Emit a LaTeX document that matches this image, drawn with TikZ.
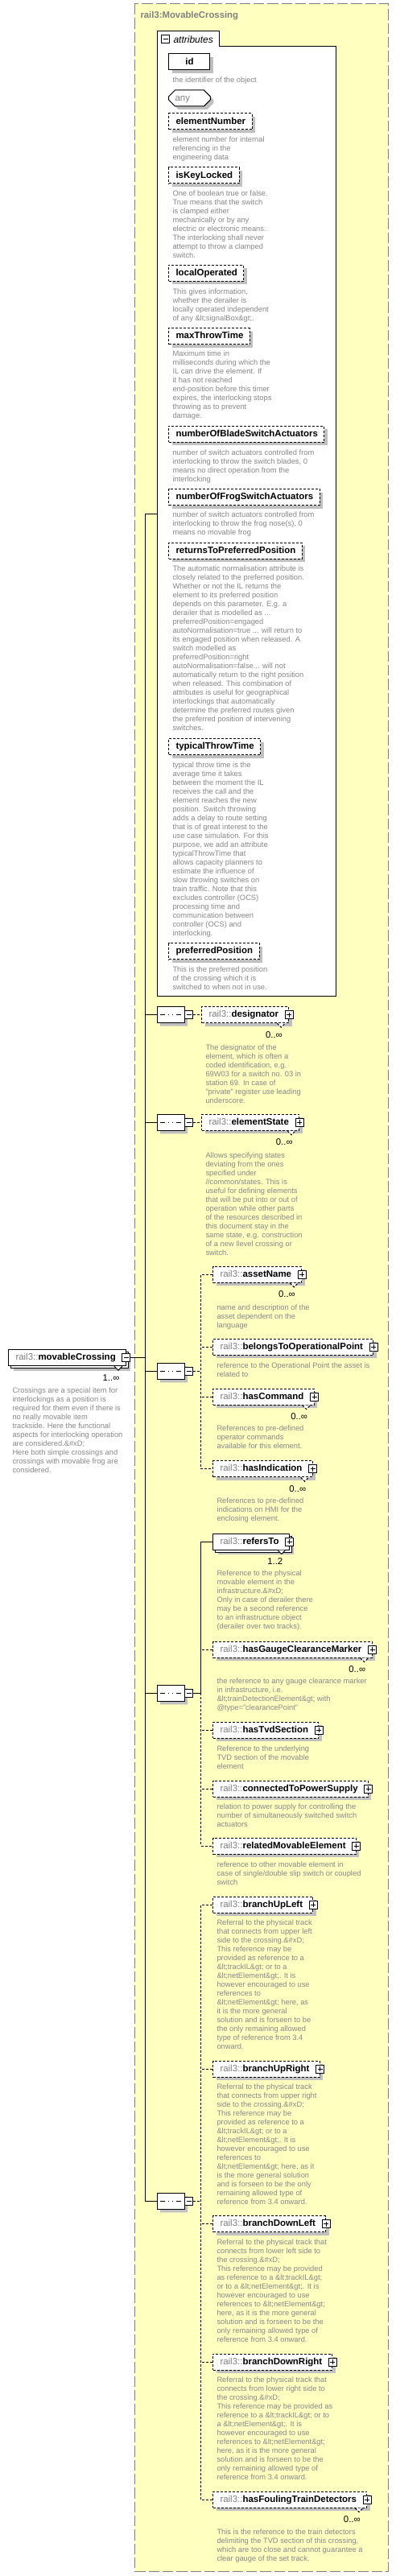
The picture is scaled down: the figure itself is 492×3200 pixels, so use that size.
\documentclass[tikz,border=0pt]{standalone}
\usepackage{fontspec}
\setmainfont{Liberation Sans}
\usetikzlibrary{shapes.misc}

\definecolor{panelyellow}{RGB}{255,255,192}
\definecolor{framegray}{RGB}{128,128,128}
\definecolor{descgray}{RGB}{136,136,136}
\definecolor{shadegray}{RGB}{192,192,192}

\newcommand\lblfont{\fontsize{8.6}{10}\selectfont}
\newcommand\descfont{\fontsize{7}{8.25}\selectfont}
\newcommand\elname[1]{\hspace*{6.75pt}{\mdseries\color{framegray}rail3::}#1\hspace*{9.5pt}}
\newcommand\atname[1]{\hspace*{6.75pt}#1\hspace*{6pt}}
\newcommand\dtext[1]{\strut#1}
\newcommand\multmark[3][optline]{%
  \draw[#1, fill=white] ([xshift=-11.25pt]#2.south east) -- ++(3.75pt,-3.75pt) -- ++(3.75pt,3.75pt);
  \node[mult] (#2mult) at ([xshift=-6pt,yshift=-10.5pt]#2.south east) {#3};}

\begin{document}
\begin{tikzpicture}[x=0.75pt, y=-0.75pt, line width=0.75pt,
    optline/.style={dash pattern=on 2.25pt off 1.5pt},
    shade/.style={preaction={draw=none, fill=shadegray, transform canvas={xshift=3pt, yshift=-3pt}}},
    stack/.style={preaction={draw=none, fill=shadegray, transform canvas={xshift=4.5pt, yshift=-4.5pt}},
                  preaction={draw, fill=white, transform canvas={xshift=2.25pt, yshift=-2.25pt}}},
    elbase/.style={draw, fill=white, anchor=west, inner sep=0pt, minimum height=15pt,
                   text height=6.3pt, text depth=1.7pt, font=\lblfont\bfseries},
    elbox/.style={elbase, shade},
    optbox/.style={elbase, shade, optline},
    manybox/.style={elbase, stack},
    attbox/.style={elbase, shade, minimum width=38.25pt},
    anybox/.style={chamfered rectangle, chamfered rectangle xsep=3pt, chamfered rectangle ysep=3pt,
                   draw, fill=white, shade, anchor=west, inner sep=0pt, minimum height=15pt,
                   text height=6.3pt, text depth=1.7pt, font=\lblfont, text=framegray},
    seqbox/.style={chamfered rectangle, chamfered rectangle xsep=3.5pt, chamfered rectangle ysep=3.5pt,
                   draw, fill=white, shade, inner sep=0pt, minimum width=25.5pt, minimum height=15pt,
                   path picture={
                     \draw ([xshift=-9.4pt]path picture bounding box.center) -- ([xshift=9.4pt]path picture bounding box.center);
                     \foreach \dx in {-3.75pt,0pt,3.75pt}
                       \fill ([xshift=\dx]path picture bounding box.center) +(-1.3pt,-1pt) rectangle +(1.3pt,1pt);}},
    plusbox/.style={draw, solid, fill=white, inner sep=0pt, minimum size=7.5pt,
                    path picture={
                      \draw ([yshift=-1.5pt]path picture bounding box.north) -- ([yshift=1.5pt]path picture bounding box.south)
                            ([xshift=1.5pt]path picture bounding box.west) -- ([xshift=-1.5pt]path picture bounding box.east);}},
    minusbox/.style={draw, solid, fill=white, inner sep=0pt, minimum size=7.5pt,
                     path picture={
                       \draw ([xshift=1.5pt]path picture bounding box.west) -- ([xshift=-1.5pt]path picture bounding box.east);}},
    desc/.style={anchor=north west, inner sep=0pt, align=left, font=\descfont, text=descgray},
    mult/.style={anchor=east, inner sep=0pt, font=\fontsize{8.5}{10}\selectfont}]

  \useasboundingbox (0,0) rectangle (492,3200);

  % Complex type frame
  \draw[framegray, fill=panelyellow, dash pattern=on 10pt off 3pt] (167,5) rectangle (482,3194);
  \node[anchor=west, inner sep=0pt, font=\fontsize{8.5}{10}\selectfont\bfseries, text=framegray] (title) at (174,20) {rail3:MovableCrossing};

  % Attributes
  \draw[fill=white] (195,39) -- (272,39) -- (272,58) -- (417,58) -- (417,1237) -- (195,1237) -- cycle;
  \node[minusbox] (attrminus) at (205.5,49) {};
  \node[anchor=west, inner sep=0pt, font=\fontsize{9}{10}\selectfont\itshape] (attrlabel) at (215,49.5) {attributes};
  \coordinate (attrport) at (195,638);

  \node[attbox] (id) at (209,77) {\atname{id}};
  \node[desc] (iddesc) at (214,94.3) {\dtext{the identifier of the object}};
  \node[anybox] (any) at (209,122) {\hspace*{3pt}any\hspace*{16pt}};

  \node[attbox, optline] (elemnum) at (209,151) {\atname{elementNumber}};
  \node[desc] (elemnumdesc) at (214,168.3) {\dtext{element number for internal\\referencing in the\\engineering data}};

  \node[attbox, optline] (keylock) at (209,218) {\atname{isKeyLocked}};
  \node[desc] (keylockdesc) at (214,235.3) {\dtext{One of boolean true or false.\\True means that the switch\\is clamped either\\mechanically or by any\\electric or electronic means.\\The interlocking shall never\\attempt to throw a clamped\\switch.}};

  \node[attbox, optline] (localop) at (209,339.3) {\atname{localOperated}};
  \node[desc] (localopdesc) at (214,357) {\dtext{This gives information,\\whether the derailer is\\locally operated independent\\of any \&lt;signalBox\&gt;.}};

  \node[attbox, optline] (maxthrow) at (209,417.7) {\atname{maxThrowTime}};
  \node[desc] (maxthrowdesc) at (214,434.6) {\dtext{Maximum time in\\milliseconds during which the\\IL can drive the element. If\\it has not reached\\end-position before this timer\\expires, the interlocking stops\\throwing as to prevent\\damage.}};

  \node[attbox, optline] (blades) at (209,539.3) {\atname{numberOfBladeSwitchActuators}};
  \node[desc] (bladesdesc) at (214,557) {\dtext{number of switch actuators controlled from\\interlocking to throw the switch blades, 0\\means no direct operation from the\\interlocking}};

  \node[attbox, optline] (frogs) at (209,617.7) {\atname{numberOfFrogSwitchActuators}};
  \node[desc] (frogsdesc) at (214,634.6) {\dtext{number of switch actuators controlled from\\interlocking to throw the frog nose(s), 0\\means no movable frog}};

  \node[attbox, optline] (returns) at (209,684.3) {\atname{returnsToPreferredPosition}};
  \node[desc] (returnsdesc) at (214,701.6) {\dtext{The automatic normalisation attribute is\\closely related to the preferred position.\\Whether or not the IL returns the\\element to its preferred position\\depends on this parameter. E.g. a\\derailer that is modelled as ...\\preferredPosition=engaged\\autoNormalisation=true ... will return to\\its engaged position when released. A\\switch modelled as\\preferredPosition=right\\autoNormalisation=false... will not\\automatically return to the right position\\when released. This combination of\\attributes is useful for geographical\\interlockings that automatically\\determine the preferred routes given\\the preferred position of intervening\\switches.}};

  \node[attbox, optline] (typthrow) at (209,927.7) {\atname{typicalThrowTime}};
  \node[desc] (typthrowdesc) at (214,945) {\dtext{typical throw time is the\\average time it takes\\between the moment the IL\\receives the call and the\\element reaches the new\\position. Switch throwing\\adds a delay to route setting\\that is of great interest to the\\use case simulation. For this\\purpose, we add an attribute\\typicalThrowTime that\\allows capacity planners to\\estimate the influence of\\slow throwing switches on\\train traffic. Note that this\\excludes controller (OCS)\\processing time and\\communication between\\controller (OCS) and\\interlocking.}};

  \node[attbox, optline] (prefpos) at (209,1181.7) {\atname{preferredPosition}};
  \node[desc] (prefposdesc) at (214,1199) {\dtext{This is the preferred position\\of the crossing which it is\\switched to when not in use.}};

  % Root element
  \node[manybox] (root) at (10,1686.7) {\elname{movableCrossing}};
  \multmark[solid]{root}{1..∞}
  \node[minusbox] (rootminus) at (root.east) {};
  \node[desc] (rootdesc) at (15,1722) {\dtext{Crossings are a special item for\\interlockings as a position is\\required for them even if there is\\no really movable item\\trackside. Here the functional\\aspects for interlocking operation\\are considered.\&\#xD;\\Here both simple crossings and\\crossings with movable frog are\\considered.}};

  % Sequences
  \node[seqbox] (seqdesig) at (212,1260.7) {};
  \node[minusbox] (seqdesigm) at ([xshift=3.75pt]seqdesig.east) {};
  \node[seqbox] (seqstate) at (212,1394.3) {};
  \node[minusbox] (seqstatem) at ([xshift=3.75pt]seqstate.east) {};
  \node[seqbox] (seqasset) at (212,1703.3) {};
  \node[minusbox] (seqassetm) at ([xshift=3.75pt]seqasset.east) {};
  \node[seqbox] (seqref) at (212,2103.3) {};
  \node[minusbox] (seqrefm) at ([xshift=3.75pt]seqref.east) {};
  \node[seqbox] (seqbranch) at (212,2734.3) {};
  \node[minusbox] (seqbranchm) at ([xshift=3.75pt]seqbranch.east) {};

  % Trunk
  \coordinate (trunktop) at (180.5,638);
  \draw (attrport) -- (trunktop) |- (seqbranch.west);
  \draw (rootminus.east) -- (rootminus.east -| trunktop);
  \foreach \s in {seqdesig,seqstate,seqasset,seqref}
    \draw (\s.west) -- (\s.west -| trunktop);

  % Sequence 1
  \node[optbox] (desig) at (250,1260.7) {\elname{designator}};
  \multmark{desig}{0..∞}
  \node[plusbox] (desigplus) at (desig.east) {};
  \draw[optline] (seqdesigm.east) -- (desig.west);
  \node[desc] (desigdesc) at (255,1296) {\dtext{The designator of the\\element, which is often a\\coded identification, e.g.\\69W03 for a switch no. 03 in\\station 69. In case of\\"private" register use leading\\underscore.}};

  % Sequence 2
  \node[optbox] (state) at (250,1394.3) {\elname{elementState}};
  \multmark{state}{0..∞}
  \node[plusbox] (stateplus) at (state.east) {};
  \draw[optline] (seqstatem.east) -- (state.west);
  \node[desc] (statedesc) at (255,1430) {\dtext{Allows specifying states\\deviating from the ones\\specified under\\//common/states. This is\\useful for defining elements\\that will be put into or out of\\operation while other parts\\of the resources described in\\this document stay in the\\same state, e.g. construction\\of a new llevel crossing or\\switch.}};

  % Sequence 3
  \coordinate (assetbus) at (249.5,1703.3);
  \node[optbox] (assetname) at (264,1583.3) {\elname{assetName}};
  \multmark{assetname}{0..∞}
  \node[plusbox] (assetnameplus) at (assetname.east) {};
  \node[desc] (assetnamedesc) at (269,1619) {\dtext{name and description of the\\asset dependent on the\\language}};

  \node[optbox] (opoint) at (264,1673.3) {\elname{belongsToOperationalPoint}};
  \node[plusbox] (opointplus) at (opoint.east) {};
  \node[desc] (opointdesc) at (269,1691.3) {\dtext{reference to the Operational Point the asset is\\related to}};

  \node[optbox] (command) at (264,1735) {\elname{hasCommand}};
  \multmark{command}{0..∞}
  \node[plusbox] (commandplus) at (command.east) {};
  \node[desc] (commanddesc) at (269,1769.6) {\dtext{References to pre-defined\\operator commands\\available for this element.}};

  \node[optbox] (indic) at (264,1824.7) {\elname{hasIndication}};
  \multmark{indic}{0..∞}
  \node[plusbox] (indicplus) at (indic.east) {};
  \node[desc] (indicdesc) at (269,1859.6) {\dtext{References to pre-defined\\indications on HMI for the\\enclosing element.}};

  \draw[optline] (seqassetm.east) -- (assetbus);
  \draw[optline] (assetname.west) -| (assetbus) |- (indic.west);
  \draw[optline] (opoint.west) -- (opoint.west -| assetbus);
  \draw[optline] (command.west) -- (command.west -| assetbus);

  % Sequence 4
  \coordinate (refbus) at (249.5,2103.3);
  \node[manybox] (refto) at (264,1915) {\elname{refersTo}};
  \multmark[solid]{refto}{1..2}
  \node[plusbox] (reftoplus) at (refto.east) {};
  \node[desc] (reftodesc) at (269,1949.6) {\dtext{Reference to the physical\\movable element in the\\infrastructure.\&\#xD;\\Only in case of derailer there\\may be a second reference\\to an infrastructure object\\(derailer over two tracks).}};

  \node[optbox] (gauge) at (264,2049) {\elname{hasGaugeClearanceMarker}};
  \multmark{gauge}{0..∞}
  \node[plusbox] (gaugeplus) at (gauge.east) {};
  \node[desc] (gaugedesc) at (269,2083.6) {\dtext{the reference to any gauge clearance marker\\in infrastructure, i.e.\\\&lt;trainDetectionElement\&gt; with\\@type="clearancePoint"}};

  \node[optbox] (tvd) at (264,2149.3) {\elname{hasTvdSection}};
  \node[plusbox] (tvdplus) at (tvd.east) {};
  \node[desc] (tvddesc) at (269,2167) {\dtext{Reference to the underlying\\TVD section of the movable\\element}};

  \node[optbox] (power) at (264,2222) {\elname{connectedToPowerSupply}};
  \node[plusbox] (powerplus) at (power.east) {};
  \node[desc] (powerdesc) at (269,2239.3) {\dtext{relation to power supply for controlling the\\number of simultaneously switched switch\\actuators}};

  \node[optbox] (relmov) at (264,2293.3) {\elname{relatedMovableElement}};
  \node[plusbox] (relmovplus) at (relmov.east) {};
  \node[desc] (relmovdesc) at (269,2311) {\dtext{reference to other movable element in\\case of single/double slip switch or coupled\\switch}};

  \draw (seqrefm.east) -- (refbus);
  \draw (refto.west) -| (refbus);
  \draw[optline] (refbus) |- (relmov.west);
  \draw[optline] (gauge.west) -- (gauge.west -| refbus);
  \draw[optline] (tvd.west) -- (tvd.west -| refbus);
  \draw[optline] (power.west) -- (power.west -| refbus);

  % Sequence 5
  \coordinate (branchbus) at (249.5,2734.3);
  \node[optbox] (upleft) at (264,2366) {\elname{branchUpLeft}};
  \node[plusbox] (upleftplus) at (upleft.east) {};
  \node[desc] (upleftdesc) at (269,2383.6) {\dtext{Referral to the physical track\\that connects from upper left\\side to the crossing.\&\#xD;\\This reference may be\\provided as reference to a\\\&lt;trackIL\&gt; or to a\\\&lt;netElement\&gt;. It is\\however encouraged to use\\references to\\\&lt;netElement\&gt; here, as\\it is the more general\\solution and is forseen to be\\the only remaining allowed\\type of reference from 3.4\\onward.}};

  \node[optbox] (upright) at (264,2570) {\elname{branchUpRight}};
  \node[plusbox] (uprightplus) at (upright.east) {};
  \node[desc] (uprightdesc) at (269,2587) {\dtext{Referral to the physical track\\that connects from upper right\\side to the crossing.\&\#xD;\\This reference may be\\provided as reference to a\\\&lt;trackIL\&gt; or to a\\\&lt;netElement\&gt;. It is\\however encouraged to use\\references to\\\&lt;netElement\&gt; here, as it\\is the more general solution\\and is forseen to be the only\\remaining allowed type of\\reference from 3.4 onward.}};

  \node[optbox] (downleft) at (264,2762.7) {\elname{branchDownLeft}};
  \node[plusbox] (downleftplus) at (downleft.east) {};
  \node[desc] (downleftdesc) at (269,2780) {\dtext{Referral to the physical track that\\connects from lower left side to\\the crossing.\&\#xD;\\This reference may be provided\\as reference to a \&lt;trackIL\&gt;\\or to a \&lt;netElement\&gt;. It is\\however encouraged to use\\references to \&lt;netElement\&gt;\\here, as it is the more general\\solution and is forseen to be the\\only remaining allowed type of\\reference from 3.4 onward.}};

  \node[optbox] (downright) at (264,2934) {\elname{branchDownRight}};
  \node[plusbox] (downrightplus) at (downright.east) {};
  \node[desc] (downrightdesc) at (269,2951) {\dtext{Referral to the physical track that\\connects from lower right side to\\the crossing.\&\#xD;\\This reference may be provided as\\reference to a \&lt;trackIL\&gt; or to\\a \&lt;netElement\&gt;. It is\\however encouraged to use\\references to \&lt;netElement\&gt;\\here, as it is the more general\\solution and is forseen to be the\\only remaining allowed type of\\reference from 3.4 onward.}};

  \node[optbox] (fouling) at (264,3105) {\elname{hasFoulingTrainDetectors}};
  \multmark{fouling}{0..∞}
  \node[plusbox] (foulingplus) at (fouling.east) {};
  \node[desc] (foulingdesc) at (269,3140) {\dtext{This is the reference to the train detectors\\delimiting the TVD section of this crossing,\\which are too close and cannot guarantee a\\clear gauge of the set track.}};

  \draw[optline] (seqbranchm.east) -- (branchbus);
  \draw[optline] (upleft.west) -| (branchbus) |- (fouling.west);
  \draw[optline] (upright.west) -- (upright.west -| branchbus);
  \draw[optline] (downleft.west) -- (downleft.west -| branchbus);
  \draw[optline] (downright.west) -- (downright.west -| branchbus);

\end{tikzpicture}
\end{document}
